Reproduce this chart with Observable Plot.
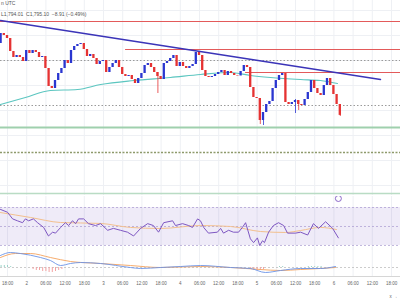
<!DOCTYPE html>
<html><head><meta charset="utf-8">
<script src="https://cdn.jsdelivr.net/npm/d3@7"></script>
<script src="https://cdn.jsdelivr.net/npm/@observablehq/plot@0.6"></script>
<style>
body{margin:0;background:#fff;}
#wrap{position:relative;width:400px;height:300px;overflow:hidden;font-family:"Liberation Sans",Arial,sans-serif;background:#fff;}
#wrap svg{position:absolute;left:0;}
.hdr{position:absolute;left:1px;font-size:5px;line-height:6px;color:#555;white-space:pre;}
</style></head><body><div id="wrap"></div>
<script>
// ---- candles (hourly, first candle at day1 16:00 = hour 16) ----
const candleStartHour = 16;
const firstOpen = 1867;
const closes = [1877,1875,1872,1859,1853,1855,1853,1849,1860,1857,
1860,1858,1853,1854,1842,1824,1822,1830,1837,1842,
1850,1847,1860,1864,1866,1867,1861,1854,1856,1852,
1846,1849,1850,1838,1843,1847,1850,1843,1836,1834,
1835,1831,1827,1832,1837,1845,1847,1843,1838,1834,
1831,1847,1849,1852,1855,1844,1848,1844,1842,1844,
1846,1858,1855,1840,1834,1833,1834,1836,1838,1840,
1835,1839,1837,1835,1834.5,1839,1845,1843,1823,1813,
1812,1790,1798,1806,1809,1822,1830,1835,1837,1808,
1806,1808,1810,1806,1805,1811,1818,1830,1822,1817,
1815,1825,1832,1825,1816,1806,1795.1];
const wickIndex = [49, 81, 82, 92, 93, 106];
const wickHigh  = [1838, 1812, 1798, 1811, 1810, 1806];
const wickLow   = [1817, 1786, 1785, 1797, 1800, 1794.01];

// moving average (teal)
const maHours  = [15.8,23.6,31.4,39.9,47.1,57.4,68.9,78.3,87.7,93.9,100.2,109.6,115.8,121.1];
const maValues = [1806,1813,1820,1821,1826,1830,1833,1836,1838,1835,1833,1831,1830,1827];

// trend line
const trendHours  = [15.8125, 134.56];
const trendPrices = [1890, 1831];

// horizontal levels
const redLevels      = [1889, 1861, 1838];
const redLevelStarts = [15.8125, 54.9, 92.4];
const dottedLevels   = [1850, 1805];
const greenLevel = 1783;
const oliveLevel = 1758;
const paneLevel = 1717;
const gridPrices = [1900,1875,1850,1825,1800,1775,1750,1725];

// RSI
const rsiHours = [15.8,18,19.6,21.1,22.7,23.6,24.6,26.1,27.4,29.3,30.8,32.1,33,34.6,36.1,37.1,38.3,39.3,40.2,41.8,43.3,45.5,47.1,49.3,51.1,53.3,55.5,57.4,59.6,61.8,63.6,65.2,66.8,69.6,70.5,72.7,74.6,75.8,77.4,78.3,79.3,80.8,83.6,84.6,85.5,87.1,88.6,90.2,91.4,92.4,93.9,94.9,96.1,96.8,97.7,98.3,99.6,101.1,102.7,104.3,105.5,108,109.6,111.8,113.6,115.2,117.4,119.6,121.4];
const rsiValues = [68,65,58,56,54,58,56,58,54,49,40,44,43,49,54,51,56,53,58,58,53,51,53,46,48,46,44,40,48,53,51,44,54,56,51,53,51,49,58,56,49,43,44,48,43,46,44,44,49,54,37,33,38,30,35,33,44,51,54,51,43,43,44,41,53,48,55,48,38];
const rsiMaHours  = [15.8,25.2,34.6,47.1,56.4,65.8,78.3,87.7,97.1,104.9,109.6,115.8,120.8];
const rsiMaValues = [64.7,59.5,54.2,53.2,49,47.9,51,50,44.7,43.7,45.8,49,46.8];

// MACD
const macdHours  = [15.8,18.9,22,28.3,31.4,34.6,37.7,40.8,47.1,56.4,59.6,65.8,72.1,78.3,87.7,93.9,98.6,103.3,109.6,115.8,120.5];
const macdValues = [12,15,14,10,7,2,4,5,4,0,-1,0,1,2,0,-1,-5,-3,-1,-1,1];
const signalHours  = [15.8,20.5,25.2,31.4,37.7,47.1,56.4,65.8,78.3,87.7,97.1,103.3,109.6,115.8,120.5];
const signalValues = [10,14,14,10,6,4,2,0,1,0,-2,-3,-2,-1,0];
const histHours  = [16,17,18,19,26,27,28,29,30,31,32,33,34,35,94,95,96,97,98,103,104,112,113,114,115,116];
const histValues = [2,2,2,1,-2,-3,-3,-4,-4,-5,-5,-4,-3,-2,-2,-3,-3,-3,-2,1,1,1,1,1,1,1];

// time axis
const tickHours  = [18,24,30,36,42,48,54,60,66,72,78,84,90,96,102,108,114,120,126,132,138];
const timeLabels = ["18:00","2","06:00","12:00","18:00","3","06:00","12:00","18:00","4","06:00","12:00","18:00","5","06:00","12:00","18:00","6","06:00","12:00","18:00"];

// ---- build ----
const BLUE = "#2a36d0", RED = "#e53232";
const xDomain = [15.8125, 140.8125];
const candles = closes.map((c, i) => ({h: candleStartHour + i, o: i === 0 ? firstOpen : closes[i - 1], c}));
const up = candles.filter(d => d.c >= d.o), down = candles.filter(d => d.c < d.o);
const wicks = wickIndex.map((k, j) => ({h: candleStartHour + k, hi: wickHigh[j], lo: wickLow[j], col: closes[k] >= (k === 0 ? firstOpen : closes[k - 1]) ? BLUE : RED}));
const zip = (a, b) => a.map((v, i) => ({x: v, y: b[i]}));
const gridCol = "#eef0f4";
const common = {width: 400, margin: 0, x: {domain: xDomain, axis: null}, style: {background: "transparent", fontFamily: "Liberation Sans, Arial, sans-serif"}};

const main = Plot.plot({...common, height: 195,
  y: {domain: [1715, 1910], axis: null},
  marks: [
    Plot.ruleX(tickHours, {stroke: gridCol}),
    Plot.ruleY(gridPrices, {stroke: gridCol}),
    Plot.ruleY(dottedLevels, {stroke: "#9a9a9a", strokeDasharray: "1.5,2", strokeWidth: 1}),
    Plot.ruleY(redLevels.map((v, i) => ({y: v, x1: redLevelStarts[i], x2: xDomain[1]})), {y: "y", x1: "x1", x2: "x2", stroke: "#e35a5a", strokeWidth: 1}),
    Plot.ruleY([greenLevel], {stroke: "#9fd0ad", strokeWidth: 2}),
    Plot.ruleY([oliveLevel], {stroke: "#8e9a6b", strokeWidth: 1.5, strokeDasharray: "2,1.5"}),
    Plot.ruleY([paneLevel], {stroke: "#b9dcc4", strokeWidth: 1.5}),
    Plot.line(zip(maHours, maValues), {x: "x", y: "y", stroke: "#5cc6c0", strokeWidth: 1.2, curve: "monotone-x"}),
    Plot.ruleX(wicks, {x: "h", y1: "lo", y2: "hi", stroke: "col", strokeWidth: 0.8}),
    Plot.rect(up, {x1: d => d.h - 0.36, x2: d => d.h + 0.36, y1: "o", y2: "c", fill: BLUE}),
    Plot.rect(down, {x1: d => d.h - 0.36, x2: d => d.h + 0.36, y1: "o", y2: "c", fill: RED}),
    Plot.line(zip(trendHours, trendPrices), {x: "x", y: "y", stroke: "#3b34b8", strokeWidth: 1.5})
  ]
});

const rsi = Plot.plot({...common, height: 54,
  y: {domain: [24.7, 81.6], axis: null},
  marks: [
    Plot.ruleX(tickHours, {stroke: gridCol}),
    Plot.rect([{x1: xDomain[0], x2: xDomain[1], y1: 30, y2: 70}], {x1: "x1", x2: "x2", y1: "y1", y2: "y2", fill: "#7e57c2", fillOpacity: 0.12}),
    Plot.ruleY([30, 50, 70], {stroke: "#a898cf", strokeDasharray: "2,2", strokeWidth: 0.7}),
    Plot.line(zip(rsiMaHours, rsiMaValues), {x: "x", y: "y", stroke: "#f3c08e", strokeWidth: 1, curve: "monotone-x"}),
    Plot.line(zip(rsiHours, rsiValues), {x: "x", y: "y", stroke: "#7e57c2", strokeWidth: 1}),
    Plot.dot([{x: 121.4, y: 79.5}], {x: "x", y: "y", r: 3, stroke: "#7e57c2", strokeWidth: 0.9, fill: "white"})
  ]
});

const macd = Plot.plot({...common, height: 53, marginBottom: 24,
  y: {domain: [-9, 20], axis: null},
  marks: [
    Plot.ruleX(tickHours, {stroke: gridCol}),
    Plot.ruleY([0], {stroke: "#aaaaaa", strokeDasharray: "2,2", strokeWidth: 0.6}),
    Plot.ruleX(zip(histHours, histValues), {x: "x", y1: 0, y2: "y", stroke: d => d.y >= 0 ? "#9ad3c8" : "#f3a3a3", strokeWidth: 1}),
    Plot.line(zip(signalHours, signalValues), {x: "x", y: "y", stroke: "#f5a35c", strokeWidth: 0.9, curve: "monotone-x"}),
    Plot.line(zip(macdHours, macdValues), {x: "x", y: "y", stroke: "#6b93e6", strokeWidth: 0.9, curve: "monotone-x"}),
    Plot.ruleY([-9], {stroke: "#d6d6d6"}),
    Plot.axisX(tickHours, {tickSize: 0, tickPadding: 5, fontSize: 4.5, fill: "#666", tickFormat: d => timeLabels[tickHours.indexOf(d)]})
  ]
});

const wrap = document.getElementById("wrap");
main.style.top = "0px"; rsi.style.top = "196px"; macd.style.top = "247px";
wrap.appendChild(main); wrap.appendChild(rsi); wrap.appendChild(macd);
const h1 = document.createElement("div"); h1.className = "hdr"; h1.style.top = "0px"; h1.textContent = "n UTC"; wrap.appendChild(h1);
const h2 = document.createElement("div"); h2.className = "hdr"; h2.style.top = "11px"; h2.textContent = "L1,794.01  C1,795.10  \u22128.91 (\u22120.49%)"; wrap.appendChild(h2);
</script></body></html>
